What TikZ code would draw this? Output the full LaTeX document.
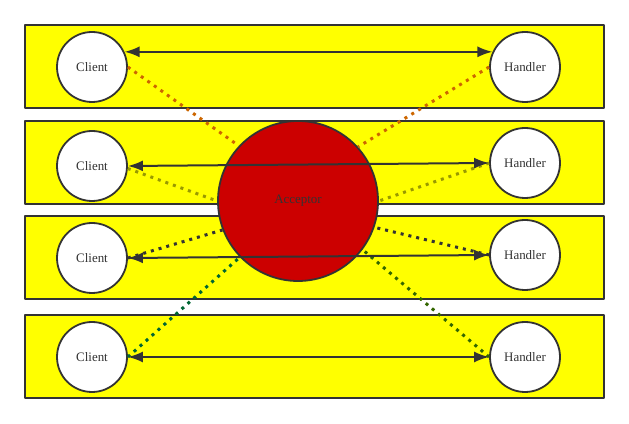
\documentclass[tikz,border=0pt]{standalone}
\usepackage{fontspec}
\setmainfont{Liberation Serif}
\usepackage[x11names, svgnames, rgb]{xcolor}
\usepackage{tikz}
\usetikzlibrary{arrows,arrows.meta,shapes}

\definecolor{strokecol}{HTML}{333333}
\definecolor{acccol}{HTML}{CC0000}
\definecolor{wireone}{HTML}{CC6600}
\definecolor{wiretwo}{HTML}{999900}
\definecolor{wirefourc}{HTML}{006633}
\definecolor{wirefourh}{HTML}{336600}

\begin{document}
\begin{tikzpicture}[>={Latex[length=15bp,width=11bp]},line join=bevel,
	lane/.style={draw=strokecol,line width=2bp,fill=yellow,minimum width=579bp,minimum height=83bp,inner sep=0pt},
	peer/.style={draw=strokecol,line width=1.8bp,fill=white,circle,minimum size=70bp,inner sep=0pt,text=strokecol,font=\fontsize{13}{15}\selectfont},
	link/.style={<->,draw=strokecol,line width=2bp},
	wire/.style={line width=3bp,dash pattern=on 3bp off 5bp}]
		%%
		\useasboundingbox (0bp,0bp) rectangle (629bp,424bp);
		\node (lane1) at (314.5bp,357.5bp) [lane] {};
		  \node (lane2) at (314.5bp,261.5bp) [lane] {};
		  \node (lane3) at (314.5bp,166.5bp) [lane] {};
		  \node (lane4) at (314.5bp,67.5bp) [lane] {};
		%%
		\node (acc) at (298bp,223bp) [peer,fill=acccol,minimum size=160bp] {Acceptor};
		  \node (c1) at (92bp,357bp) [peer] {Client};
		  \node (c2) at (92bp,258bp) [peer] {Client};
		  \node (c3) at (92bp,166bp) [peer] {Client};
		  \node (c4) at (92bp,67bp) [peer] {Client};
		  \node (h1) at (525bp,357bp) [peer] {Handler};
		  \node (h2) at (525bp,261bp) [peer] {Handler};
		  \node (h3) at (525bp,169bp) [peer] {Handler};
		  \node (h4) at (525bp,67bp) [peer] {Handler};
		%%
		\draw [wire,wireone] (c1.east) -- (acc.137);
		  \draw [wire,wireone] (h1.west) -- (acc.42);
		  \draw [wire,wiretwo] (c2.-4) -- (acc.180);
		  \draw [wire,wiretwo] (h2.west) -- (acc.0);
		  \draw [wire,strokecol] (c3.east) -- (acc.201);
		  \draw [wire,strokecol] (h3.west) -- (acc.341);
		  \draw [wire,wirefourc] (c4.east) -- (acc.224);
		  \draw [wire,wirefourh] (h4.west) -- (acc.323);
		%%
		\draw [link] (c1.25) -- (h1.155);
		  \draw [link] (c2.east) -- (h2.west);
		  \draw [link] (c3.east) -- (h3.west);
		  \draw [link] (c4.east) -- (h4.west);
		%
	\end{tikzpicture}
\end{document}
